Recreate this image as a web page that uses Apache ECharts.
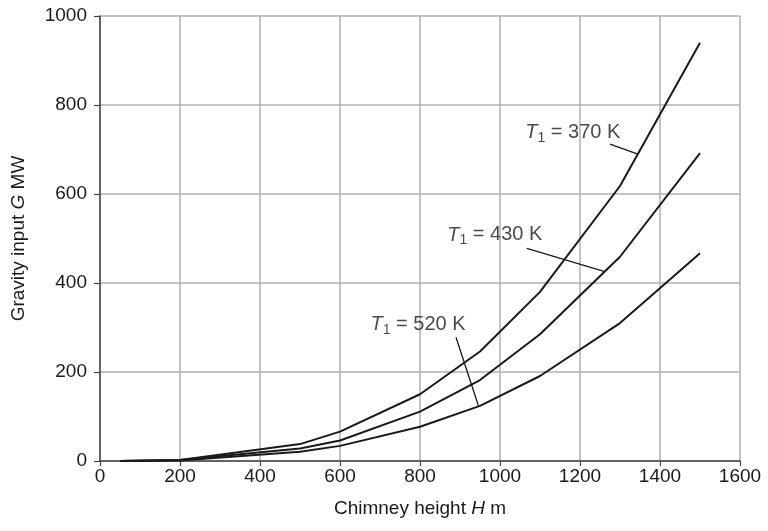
<!DOCTYPE html>
<html>
<head>
<meta charset="utf-8">
<script src="https://cdn.jsdelivr.net/npm/echarts@6/dist/echarts.min.js"></script>
<style>html,body{margin:0;padding:0;background:#fff}#c{width:768px;height:531px}</style>
</head>
<body>
<div id="c"></div>
<script>
const heights = [50, 200, 500, 600, 800, 950, 1100, 1300, 1500];
const g370 = [0, 2, 38, 66, 150, 246, 380, 618, 940];
const g430 = [0, 2, 28, 46, 111, 182, 285, 459, 692];
const g520 = [0, 1, 21, 34, 77, 124, 191, 310, 467];
const xTicks = [0, 200, 400, 600, 800, 1000, 1200, 1400, 1600];
const yTicks = [0, 200, 400, 600, 800, 1000];
const labelTemps = ['370', '430', '520'];
const labelPos = [[1182, 738], [987, 508], [795, 306]];
const leaders = [
  [[1275, 712], [1343, 690]],
  [[1067, 478], [1260, 426]],
  [[890, 278], [946, 124]]
];

const FONT = '"Liberation Sans", Arial, sans-serif';
const INK = '#1a1a1a';
const chart = echarts.init(document.getElementById('c'));

function curve(vals) {
  return {
    type: 'line', data: heights.map((h, i) => [h, vals[i]]),
    symbol: 'none', silent: true,
    lineStyle: { color: INK, width: 2 }
  };
}
const series = [curve(g370), curve(g430), curve(g520)];
leaders.forEach(seg => series.push({
  type: 'line', data: seg, symbol: 'none', silent: true,
  lineStyle: { color: INK, width: 1.3 }
}));
series.push({
  type: 'scatter', symbolSize: 0, silent: true,
  itemStyle: { color: INK },
  data: labelPos.map((p, i) => ({ value: p, name: labelTemps[i] })),
  label: {
    show: true, position: 'inside', color: INK, textBorderWidth: 0,
    formatter: p => '{t|T}{s|1}{n| = ' + p.name + ' K}',
    rich: {
      t: { fontFamily: FONT, fontSize: 20, fontStyle: 'italic', color: INK, textBorderWidth: 0 },
      s: { fontFamily: FONT, fontSize: 14, color: INK, padding: [11, 0, 0, 0], textBorderWidth: 0 },
      n: { fontFamily: FONT, fontSize: 20, color: INK, textBorderWidth: 0 }
    }
  }
});

const fmt = v => String(v);

chart.setOption({
  backgroundColor: '#fff',
  animation: false,
  grid: { left: 100, right: 28, top: 16, bottom: 70 },
  xAxis: {
    type: 'value', min: 0, max: 1600, interval: 200,
    name: 'Chimney height {i|H} m', nameLocation: 'middle', nameGap: 38,
    nameTextStyle: {
      fontFamily: FONT, fontSize: 19, color: INK,
      rich: { i: { fontFamily: FONT, fontSize: 19, fontStyle: 'italic', color: INK } }
    },
    axisLine: { show: true, lineStyle: { color: '#444', width: 1.5 } },
    axisTick: { show: true, length: 5, lineStyle: { color: '#444', width: 1.2 } },
    axisLabel: { fontFamily: FONT, fontSize: 19, color: INK, margin: 6, formatter: fmt },
    splitLine: { show: true, lineStyle: { color: '#b0b0b0', width: 1.5 } }
  },
  yAxis: {
    type: 'value', min: 0, max: 1000, interval: 200,
    name: 'Gravity input {i|G} MW', nameLocation: 'middle', nameGap: 72,
    nameTextStyle: {
      fontFamily: FONT, fontSize: 19, color: INK,
      rich: { i: { fontFamily: FONT, fontSize: 19, fontStyle: 'italic', color: INK } }
    },
    axisLine: { show: true, lineStyle: { color: '#444', width: 1.5 } },
    axisTick: { show: true, length: 6, lineStyle: { color: '#444', width: 1.2 } },
    axisLabel: { fontFamily: FONT, fontSize: 19, color: INK, margin: 13, formatter: fmt },
    splitLine: { show: true, lineStyle: { color: '#b0b0b0', width: 1.5 } }
  },
  series: series
});
</script>
</body>
</html>
